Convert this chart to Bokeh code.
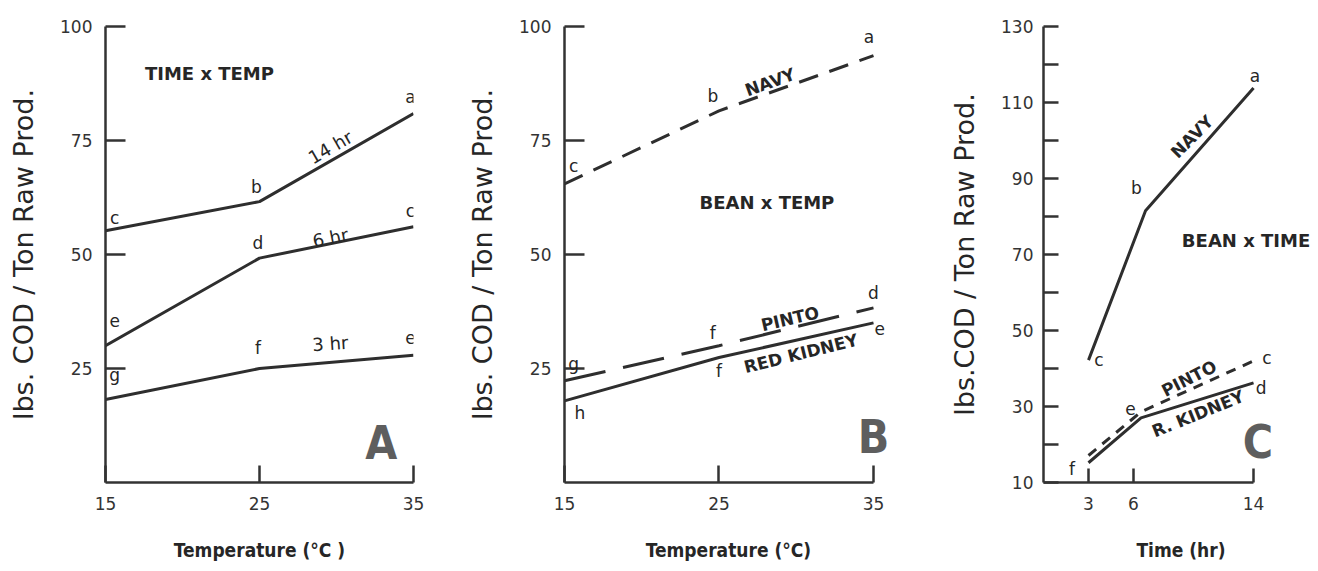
from bokeh.plotting import figure
from bokeh.layouts import row
from bokeh.models import Label, Range1d, FixedTicker
from bokeh.embed import file_html
from bokeh.resources import INLINE

# ---------------- data ----------------
temp = [15, 25, 35]
a_14hr = [55.2, 61.6, 80.9]
a_6hr = [30.0, 49.2, 56.1]
a_3hr = [18.2, 25.0, 27.9]

b_navy = [65.5, 81.5, 93.6]
b_pinto = [22.3, 30.0, 38.3]
b_kidney = [17.9, 27.4, 35.0]

c_navy_time = [3, 6.8, 14]
c_navy = [42.2, 81.5, 113.8]
c_low_time = [3, 6.5, 14]
c_pinto = [17.1, 28.6, 42.0]
c_kidney = [15.2, 27.0, 36.2]

a_yticks = [25, 50, 75, 100]
a_xticks = [15, 25, 35]
c_yticks = [10, 20, 30, 40, 50, 60, 70, 80, 90, 100, 110, 120, 130]
c_ylabeled = [10, 30, 50, 70, 90, 110, 130]
c_xticks = [3, 6, 14]

LINE = "#2e2e2e"
AXC = "#333333"
TXT = "#262626"
FONT = "DejaVu Sans"
CFONT = "DejaVu Sans Condensed"


def make_fig(width, xr, yr, bl, br, bt, bb, xbounds):
    p = figure(width=width, height=571, output_backend="svg", toolbar_location=None,
               x_range=Range1d(*xr), y_range=Range1d(*yr),
               min_border_left=bl, min_border_right=br, min_border_top=bt, min_border_bottom=bb)
    p.outline_line_color = None
    p.xgrid.grid_line_color = None
    p.ygrid.grid_line_color = None
    p.background_fill_color = "white"
    p.border_fill_color = "white"
    for ax in (p.xaxis[0], p.yaxis[0]):
        ax.axis_line_width = 2.5
        ax.axis_line_color = AXC
        ax.major_tick_line_width = 2.5
        ax.major_tick_line_color = AXC
        ax.minor_tick_line_color = None
        ax.major_tick_out = 0
        ax.major_label_text_font = FONT
        ax.major_label_text_font_size = "17px"
        ax.major_label_text_color = "#333333"
        ax.major_label_text_font_style = "normal"
        ax.axis_label_text_color = "#262626"
    p.xaxis[0].bounds = xbounds
    p.yaxis[0].major_tick_in = 20
    p.xaxis[0].major_tick_in = 17
    p.yaxis[0].major_label_standoff = 13
    p.xaxis[0].major_label_standoff = 14
    p.yaxis[0].axis_label_text_font = FONT
    p.yaxis[0].axis_label_text_font_size = "27px"
    p.yaxis[0].axis_label_text_font_style = "normal"
    p.yaxis[0].axis_label_standoff = 18
    p.xaxis[0].axis_label_text_font = CFONT
    p.xaxis[0].axis_label_text_font_size = "19px"
    p.xaxis[0].axis_label_text_font_style = "bold"
    p.xaxis[0].axis_label_standoff = 26
    return p


def lab(p, x, y, t, size="17px", angle=0, bold=False, color=TXT, font=FONT):
    p.add_layout(Label(x=x, y=y, text=t, angle=angle, angle_units="deg",
                       text_align="center", text_baseline="middle",
                       text_font_size=size, text_font=font,
                       text_font_style="bold" if bold else "normal",
                       text_color=color))


def word(p, x, y, t, angle=0, size="17px"):
    lab(p, x, y, t, size=size, angle=angle, bold=True)


def big(p, x, y, t):
    lab(p, x, y, t, size="46px", bold=True, color="#5e5e5e", font=CFONT)


# ---------------- Panel A ----------------
pA = make_fig(440, (15, 35), (0, 100), 105, 27, 19, 89, (15, 35))
pA.xaxis[0].ticker = FixedTicker(ticks=a_xticks)
pA.yaxis[0].ticker = FixedTicker(ticks=a_yticks)
pA.xaxis[0].axis_label = "Temperature (°C )"
pA.yaxis[0].axis_label = "lbs. COD / Ton Raw Prod."
for ys in (a_14hr, a_6hr, a_3hr):
    pA.line(temp, ys, line_width=3, line_color=LINE)
word(pA, 21.75, 89.6, "TIME x TEMP", size="18px")
lab(pA, 34.8, 84.5, "a")
lab(pA, 29.6, 73.5, "14 hr", size="18px", angle=30)
lab(pA, 24.8, 64.8, "b")
lab(pA, 15.6, 57.9, "c")
lab(pA, 34.8, 59.6, "c")
lab(pA, 24.9, 52.5, "d")
lab(pA, 29.6, 53.7, "6 hr", size="18px", angle=11)
lab(pA, 15.6, 35.5, "e")
lab(pA, 24.9, 29.4, "f")
lab(pA, 29.6, 30.5, "3 hr", size="18px", angle=4)
lab(pA, 34.8, 31.8, "e")
lab(pA, 15.6, 23.5, "g")
big(pA, 32.9, 8.6, "A")

# ---------------- Panel B ----------------
pB = make_fig(452, (15, 36.23), (0, 100), 124, 0, 26, 85, (15, 35))
pB.xaxis[0].ticker = FixedTicker(ticks=a_xticks)
pB.yaxis[0].ticker = FixedTicker(ticks=a_yticks)
pB.xaxis[0].axis_label = "Temperature (°C)"
pB.yaxis[0].axis_label = "lbs. COD / Ton Raw Prod."
pB.line(temp, b_navy, line_width=3, line_color=LINE, line_dash="20 12")
pB.line(temp, b_pinto, line_width=3, line_color=LINE, line_dash="42 18")
pB.line(temp, b_kidney, line_width=3, line_color=LINE)
word(pB, 28.1, 61.5, "BEAN x TEMP", size="18px")
lab(pB, 34.7, 97.8, "a")
lab(pB, 24.6, 84.8, "b")
word(pB, 28.3, 87.8, "NAVY", angle=20)
lab(pB, 15.6, 69.5, "c")
lab(pB, 35.0, 41.5, "d")
lab(pB, 35.4, 33.8, "e")
lab(pB, 24.6, 32.8, "f")
word(pB, 29.6, 35.9, "PINTO", angle=13)
lab(pB, 25.0, 24.4, "f")
word(pB, 30.3, 28.3, "RED KIDNEY", angle=14)
lab(pB, 15.6, 25.9, "g")
lab(pB, 16.0, 15.2, "h")
big(pB, 35.0, 10.0, "B")

# ---------------- Panel C ----------------
pC = make_fig(426, (0, 18.33), (10, 130), 151, 0, 20, 87, (0, 14))
pC.xaxis[0].ticker = FixedTicker(ticks=c_xticks)
pC.yaxis[0].ticker = FixedTicker(ticks=c_yticks)
pC.yaxis[0].major_label_overrides = {t: "" for t in c_yticks if t not in c_ylabeled}
pC.yaxis[0].major_tick_in = 15
pC.xaxis[0].major_tick_in = 14
pC.yaxis[0].major_label_standoff = 10
pC.xaxis[0].axis_label = "Time (hr)"
pC.yaxis[0].axis_label = "lbs.COD / Ton Raw Prod."
pC.line(c_navy_time, c_navy, line_width=3, line_color=LINE)
pC.line(c_low_time, c_pinto, line_width=3, line_color=LINE, line_dash="10 8")
pC.line(c_low_time, c_kidney, line_width=3, line_color=LINE)
word(pC, 13.5, 73.6, "BEAN x TIME", size="18px")
lab(pC, 14.1, 117.0, "a")
word(pC, 9.9, 101.0, "NAVY", angle=45)
lab(pC, 6.2, 87.5, "b")
lab(pC, 3.7, 42.3, "c")
lab(pC, 14.9, 42.8, "c")
word(pC, 9.7, 37.4, "PINTO", angle=27)
lab(pC, 14.5, 35.0, "d")
lab(pC, 5.8, 29.6, "e")
word(pC, 10.3, 28.1, "R. KIDNEY", angle=22)
lab(pC, 1.9, 13.6, "f")
big(pC, 14.3, 20.6, "C")

layout = row(pA, pB, pC)
open("out.html", "w").write(file_html(layout, INLINE))
